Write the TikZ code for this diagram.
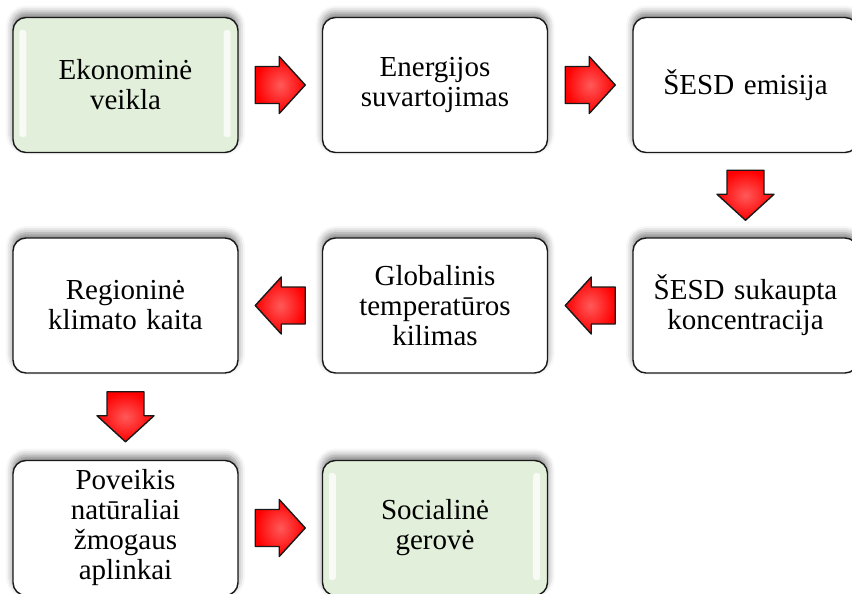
\documentclass[tikz,border=0pt]{standalone}
\usepackage{fontspec}
\setmainfont{Liberation Serif}
\usetikzlibrary{shadows.blur,calc}
\definecolor{boxgreen}{RGB}{226,239,218}
\begin{document}
\begin{tikzpicture}[x=1pt,y=-1pt,
  box/.style={draw=black!90, line width=1.4pt, rounded corners=13pt, fill=white,
    minimum width=225pt, minimum height=135pt, text width=215pt, align=center,
    inner sep=0pt, font=\fontsize{29}{30}\selectfont,
    blur shadow={shadow xshift=0pt, shadow yshift=5pt, shadow blur radius=7pt, shadow opacity=50}},
  gbox/.style={box, fill=boxgreen},
  gloss/.style={white, opacity=0.75, rounded corners=3pt},
  arrowbody/.style={draw=black!90, line width=1.4pt, line join=round,
    inner color=red!65!white, outer color=red},
  blockarrow/.pic={
    \path[arrowbody] (-25,-18.5) -- (-1,-18.5) -- (-1,-28.5) -- (25,0)
      -- (-1,28.5) -- (-1,18.5) -- (-25,18.5) -- cycle;
  },
]
\useasboundingbox (0,0) rectangle (852,594);
\clip (0,0) rectangle (852,594);

\node[gbox] (n1) at (125.5,85) {Ekonominė\\veikla};
\node[box]  (n2) at (435,85) {Energijos\\suvartojimas};
\node[box]  (n3) at (745.5,85) {ŠESD emisija};
\node[box]  (n4) at (745.5,305.5) {ŠESD sukaupta\\koncentracija};
\node[box]  (n5) at (435,305.5) {Globalinis\\temperatūros\\kilimas};
\node[box]  (n6) at (125.5,305.5) {Regioninė\\klimato kaita};
\node[box]  (n7) at (125.5,528) {Poveikis\\natūraliai\\žmogaus\\aplinkai};
\node[gbox] (n8) at (435,528) {Socialinė\\gerovė};

% gloss strips on green boxes
\foreach \n in {n1,n8}{
  \fill[gloss] ($(\n.north west)+(7,13)$) rectangle ($(\n.south west)+(14,-16)$);
  \fill[gloss] ($(\n.north east)+(-15,13)$) rectangle ($(\n.south east)+(-8,-16)$);
}

% connector positions between boxes
\coordinate (c1) at ($(n1.east)!0.5!(n2.west)$);
\coordinate (c2) at ($(n2.east)!0.5!(n3.west)$);
\coordinate (c3) at ($(n3.south)!0.5!(n4.north)$);
\coordinate (c4) at ($(n4.west)!0.5!(n5.east)$);
\coordinate (c5) at ($(n5.west)!0.5!(n6.east)$);
\coordinate (c6) at ($(n6.south)!0.5!(n7.north)$);
\coordinate (c7) at ($(n7.east)!0.5!(n8.west)$);

% block arrows
\pic at (c1) {blockarrow};
\pic at (c2) {blockarrow};
\pic[rotate=-90] at (c3) {blockarrow};
\pic[rotate=180] at (c4) {blockarrow};
\pic[rotate=180] at (c5) {blockarrow};
\pic[rotate=-90] at (c6) {blockarrow};
\pic at (c7) {blockarrow};
\end{tikzpicture}
\end{document}
